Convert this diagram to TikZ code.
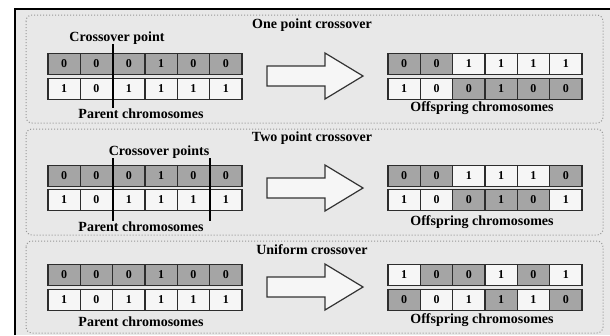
\documentclass[tikz,border=0pt]{standalone}
\usepackage{fontspec}
\setmainfont{Liberation Serif}
\definecolor{bg}{RGB}{232,232,232}
\definecolor{cellg}{RGB}{165,165,165}
\definecolor{cellw}{RGB}{246,246,246}
\definecolor{edge}{RGB}{45,45,45}
\definecolor{dotc}{RGB}{150,150,150}
\begin{document}
\begin{tikzpicture}[x=1pt,y=-1pt,
  cell/.style={draw=edge, line width=1.4pt, minimum width=32.33pt, minimum height=21pt, inner sep=0pt, font=\fontsize{12}{12}\selectfont\bfseries},
  panel/.style={draw=dotc, dotted, line width=1pt, rounded corners=6pt},
  lbl/.style={font=\fontsize{14}{14}\selectfont\bfseries, inner sep=0pt},
  cline/.style={draw=black, line width=1.1pt},
  bigarrow/.style={draw=gray!40!black, fill=cellw, line width=1.2pt, line join=miter}]
\useasboundingbox (0,0) rectangle (610,335);
\fill[white] (0,0) rectangle (610,335);
\fill[bg] (15,9) rectangle (610,335);
\draw[line width=2pt] (15,335) -- (15,9) -- (610,9);

% panels
\draw[panel] (26,15) rectangle (603,123);
\draw[panel] (26,129) rectangle (603,235);
\draw[panel] (26,241) rectangle (603,333);

% titles
\node[lbl] (t1) at (312,25) {One point crossover};
\node[lbl] (t2) at (312,138) {Two point crossover};
\node[lbl] (t3) at (312,250) {Uniform crossover};

% parent rows (same in all panels)
\foreach \p/\ya/\yb in {1/64/89, 2/176/200, 3/275/300}{
  \foreach \v [count=\i] in {0,0,0,1,0,0}
    \node[cell, fill=cellg] (p\p a\i) at ({48+32.33*(\i-0.5)},\ya) {\v};
  \foreach \v [count=\i] in {1,0,1,1,1,1}
    \node[cell, fill=cellw] (p\p b\i) at ({48+32.33*(\i-0.5)},\yb) {\v};
}

% offspring rows
\foreach \v/\c [count=\i] in {0/cellg,0/cellg,1/cellw,1/cellw,1/cellw,1/cellw}
  \node[cell, fill=\c] (o1a\i) at ({388+32.33*(\i-0.5)},64) {\v};
\foreach \v/\c [count=\i] in {1/cellw,0/cellw,0/cellg,1/cellg,0/cellg,0/cellg}
  \node[cell, fill=\c] (o1b\i) at ({388+32.33*(\i-0.5)},89) {\v};
\foreach \v/\c [count=\i] in {0/cellg,0/cellg,1/cellw,1/cellw,1/cellw,0/cellg}
  \node[cell, fill=\c] (o2a\i) at ({388+32.33*(\i-0.5)},176) {\v};
\foreach \v/\c [count=\i] in {1/cellw,0/cellw,0/cellg,1/cellg,0/cellg,1/cellw}
  \node[cell, fill=\c] (o2b\i) at ({388+32.33*(\i-0.5)},200) {\v};
\foreach \v/\c [count=\i] in {1/cellw,0/cellg,0/cellg,1/cellw,0/cellg,1/cellw}
  \node[cell, fill=\c] (o3a\i) at ({388+32.33*(\i-0.5)},275) {\v};
\foreach \v/\c [count=\i] in {0/cellg,0/cellw,1/cellw,1/cellg,1/cellw,0/cellg}
  \node[cell, fill=\c] (o3b\i) at ({388+32.33*(\i-0.5)},300) {\v};

% labels
\node[lbl] (cp1) at (117,38) {Crossover point};
\node[lbl] (cp2) at (159,152) {Crossover points};
\node[lbl] (pc1) at (141,114) {Parent chromosomes};
\node[lbl] (pc2) at (141,227) {Parent chromosomes};
\node[lbl] (pc3) at (141,322) {Parent chromosomes};
\node[lbl] (oc1) at (482,108) {Offspring chromosomes};
\node[lbl] (oc2) at (482,222) {Offspring chromosomes};
\node[lbl] (oc3) at (482,320) {Offspring chromosomes};

% crossover lines
\coordinate (l1t) at (113,44);  \coordinate (l1b) at (113,108);
\coordinate (l2t) at (113,158); \coordinate (l2b) at (113,221);
\coordinate (l3t) at (210,158); \coordinate (l3b) at (210,221);
\draw[cline] (l1t) -- (l1b);
\draw[cline] (l2t) -- (l2b);
\draw[cline] (l3t) -- (l3b);

% block arrows
\foreach \k/\cy in {1/76, 2/188, 3/287}{
  \draw[bigarrow] (267,\cy-10) -- (325,\cy-10) -- (325,\cy-23) -- (363,\cy)
     -- (325,\cy+23) -- (325,\cy+10) -- (267,\cy+10) -- cycle;
}
\end{tikzpicture}
\end{document}
